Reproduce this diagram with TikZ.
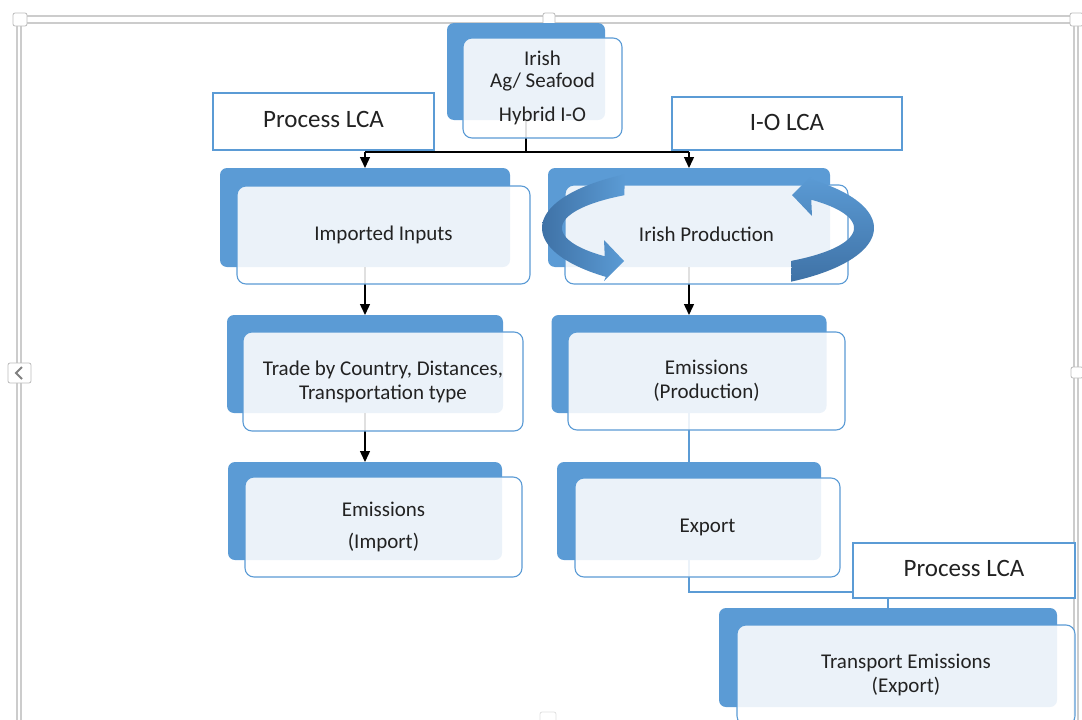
\documentclass[tikz,border=0pt]{standalone}
\usepackage{fontspec}
\setmainfont{Carlito}
\usetikzlibrary{arrows.meta}
\definecolor{accent}{HTML}{5B9BD5}
\definecolor{accentdk}{HTML}{3F72A6}
\definecolor{txt}{HTML}{222222}
\definecolor{framecol}{HTML}{CCCCCC}
\definecolor{handlecol}{HTML}{BBBBBB}
\begin{document}
\begin{tikzpicture}[x=1pt,y=-1pt,
  backbox/.style={fill=accent, rounded corners=7pt, inner sep=0pt, outer sep=0pt},
  frontbox/.style={draw=accent, line width=1.1pt, fill=white, fill opacity=0.88, text opacity=1,
    rounded corners=9pt, inner sep=0pt, outer sep=0pt, text=txt,
    font=\fontsize{21}{24}\selectfont, align=center},
  labelbox/.style={draw=accent, line width=1.1pt, fill=white, inner sep=0pt, text=txt,
    font=\fontsize{25}{28}\selectfont},
  flow/.style={draw=black, line width=1.4pt, -{Triangle[width=10pt,length=11pt]}},
  plainline/.style={draw=black, line width=1.4pt},
  link/.style={draw=accent, line width=1.4pt},
  handle/.style={draw=handlecol, fill=white, rounded corners=2pt, line width=0.8pt},
]
\useasboundingbox (0,0) rectangle (1082,720);

% selection frame
\draw[framecol, line width=1.3pt] (17,740) -- (17,16) -- (1078,16) -- (1078,740);
\draw[framecol, line width=1.3pt] (21,740) -- (21,23) -- (1074,23) -- (1074,740);
\draw[handle] (13,13) rectangle (27,26);
\draw[handle] (543,13) rectangle (555,26);
\draw[handle] (1070,13) rectangle (1083,26);
\draw[handle] (8,363) rectangle (31,383);
\draw[gray, line width=1.8pt] (22,367) -- (16,373) -- (22,379);
\draw[handle] (1071,367) rectangle (1083,378);
\draw[handle, draw=framecol!60] (540,712) rectangle (556,726);

% back boxes
\node[backbox, minimum width=158, minimum height=97] (topB) at (526,71.5) {};
\node[backbox, minimum width=290, minimum height=99] (impB) at (365,217.5) {};
\node[backbox, minimum width=276, minimum height=98] (trdB) at (365,364) {};
\node[backbox, minimum width=274, minimum height=98] (emiB) at (365,511) {};
\node[backbox, minimum width=282, minimum height=99] (prodB) at (689,217.5) {};
\node[backbox, minimum width=275, minimum height=98] (epB) at (689,364) {};
\node[backbox, minimum width=264, minimum height=98] (expB) at (689,511) {};
\node[backbox, minimum width=338, minimum height=99] (trB) at (888,657.5) {};

% connectors
\coordinate (busM) at (526,152);
\coordinate (busL) at (365,152);
\coordinate (busR) at (689,152);
\draw[plainline] (topB.south) -- (busM);
\draw[plainline] (busL) -- (busR);
\draw[flow] (busL) -- (impB.north);
\draw[flow] (busR) -- (prodB.north);
\draw[flow] (impB.south) -- (trdB.north);
\draw[flow] (trdB.south) -- (emiB.north);
\draw[flow] (prodB.south) -- (epB.north);
\draw[link] (epB.south) -- (expB.north);
\draw[link] (expB.south) -- ++(0,32) -| (trB.north);

% front boxes
\node[frontbox, minimum width=159, minimum height=100] (topF) at (542.5,88)
  {Irish\\[-2pt]Ag/ Seafood\\[10pt]Hybrid I-O};
\node[frontbox, minimum width=293, minimum height=98] (impF) at (383.5,235) {Imported Inputs};
\node[frontbox, minimum width=280, minimum height=99] (trdF) at (383,381.5)
  {Trade by Country, Distances,\\Transportation type};
\node[frontbox, minimum width=277, minimum height=100] (emiF) at (383.5,527)
  {Emissions\\[8pt](Import)};
\node[frontbox, minimum width=283, minimum height=99] (prodF) at (706.5,234.5) {Irish Production};
\node[frontbox, minimum width=277, minimum height=98] (epF) at (706.5,381)
  {Emissions\\(Production)};
\node[frontbox, minimum width=265, minimum height=99] (expF) at (707.5,527.5) {Export};
\node[frontbox, minimum width=338, minimum height=100] (trF) at (906,675)
  {Transport Emissions\\(Export)};

% label boxes
\node[labelbox, minimum width=221, minimum height=57] (lcaA) at (323.5,121.5) {\raisebox{4pt}{Process LCA}};
\node[labelbox, minimum width=230, minimum height=53] (lcaB) at (787,123.5) {\raisebox{2pt}{I-O LCA}};
\node[labelbox, minimum width=222, minimum height=55] (lcaC) at (964,570.5) {\raisebox{4pt}{Process LCA}};

% circular arrows around Irish Production
\path[left color=accentdk, right color=accent]
  plot[domain=240:128, samples=60] ({708+166*cos(\x)},{228+62*sin(\x)})
  -- (604,281) -- (624,261) -- (604,240)
  -- plot[domain=135:235, samples=60] ({708+146*cos(\x)},{228+40*sin(\x)}) -- cycle;
\path[top color=accent, bottom color=accentdk]
  plot[domain=60:-52, samples=60] ({708+166*cos(\x)},{228+62*sin(\x)})
  -- (812,175) -- (792,195) -- (812,216)
  -- plot[domain=-45:55, samples=60] ({708+146*cos(\x)},{228+40*sin(\x)}) -- cycle;
\end{tikzpicture}
\end{document}
